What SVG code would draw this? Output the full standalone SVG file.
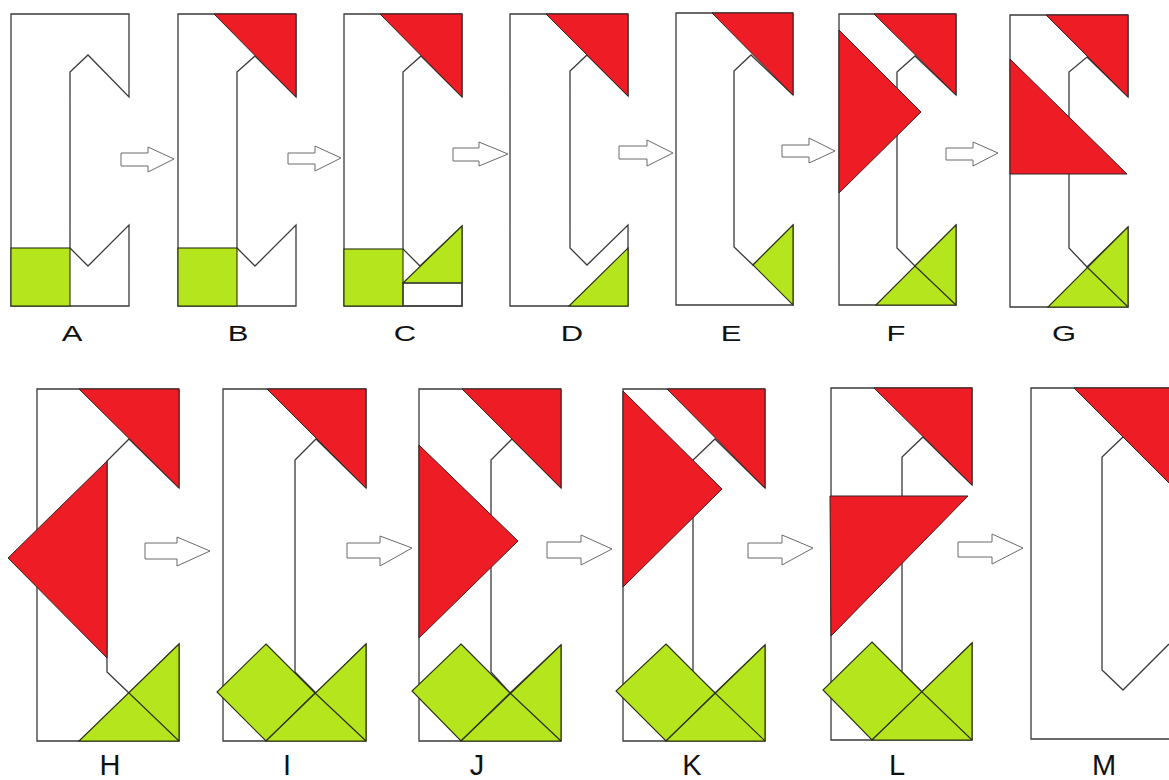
<svg xmlns="http://www.w3.org/2000/svg" width="1169" height="780" viewBox="0 0 1169 780">
<style>
.o{fill:none;stroke:#3a3a3a;stroke-width:1.3;stroke-linejoin:miter}
.r{fill:#ee1c24;stroke:#3a2020;stroke-width:1}
.g{fill:#b5e61d;stroke:#2a3010;stroke-width:1.1}
.l{fill:none;stroke:#2a3010;stroke-width:1.1}
.ar{fill:#ffffff;stroke:#6a6a6a;stroke-width:1}
.t1{font-family:"Liberation Sans",Arial,sans-serif;font-size:31px;fill:#111;text-anchor:middle}
.t2{font-family:"Liberation Sans",Arial,sans-serif;font-size:29px;fill:#111;text-anchor:middle}
</style>
<rect width="1169" height="780" fill="#ffffff"/>

<g id="A">
<path class="o" d="M11,14 H129 V97 L88,55 L70,72 V248 L88,266 L129,225 V306 H11 Z"/>
<rect class="g" x="11" y="248" width="59" height="58"/>
<text class="t1" transform="translate(72,341) scale(1,0.71)">A</text>
</g>

<g id="B">
<path class="o" d="M178,14 H296 V97 L255,56 L237,72 V248 L255,266 L296,225 V306 H178 Z"/>
<polygon class="r" points="214,14 296,14 296,97"/>
<rect class="g" x="178" y="248" width="59" height="58"/>
<text class="t1" transform="translate(238,341) scale(1,0.71)">B</text>
</g>

<g id="C">
<path class="o" d="M344,14 H462 V97 L421,56 L403,72 V249 L420,266 L462,226 V306 H344 Z"/>
<polygon class="r" points="380,14 462,14 462,97"/>
<rect class="g" x="344" y="249" width="59" height="57"/>
<polygon class="g" points="403,283 462,226 462,283"/>
<rect class="o" x="403" y="283" width="59" height="23"/>
<text class="t1" transform="translate(405,341) scale(1,0.71)">C</text>
</g>

<g id="D">
<path class="o" d="M510,14 H628 V96 L587,55 L570,71 V248 L587,265 L628,225 V306 H510 Z"/>
<polygon class="r" points="546,14 628,14 628,96"/>
<polygon class="g" points="569,306 628,248 628,306"/>
<text class="t1" transform="translate(572,341) scale(1,0.71)">D</text>
</g>

<g id="E">
<path class="o" d="M676,13 H793 V95 L751,55 L734,71 V247 L753,265 L793,225 V305 H676 Z"/>
<polygon class="r" points="712,13 793,13 793,95"/>
<polygon class="g" points="753,265 793,225 793,305"/>
<text class="t1" transform="translate(731,341) scale(1,0.71)">E</text>
</g>

<g id="F">
<path class="o" d="M839,14 H956 V95 L915,56 L897,72 V248 L915,266 L956,225 V305 H839 Z"/>
<polygon class="r" points="874,14 956,14 956,95"/>
<polygon class="r" points="839,30 921,112 839,193"/>
<polygon class="g" points="876,305 956,225 956,305"/>
<line class="l" x1="915" y1="266" x2="956" y2="305"/>
<text class="t1" transform="translate(896,341) scale(1,0.71)">F</text>
</g>

<g id="G">
<path class="o" d="M1010,15 H1128 V97 L1087,57 L1069,72 V248 L1087,267 L1128,227 V307 H1010 Z"/>
<polygon class="r" points="1046,15 1128,15 1128,97"/>
<polygon class="r" points="1010,59 1127,174 1010,174"/>
<polygon class="g" points="1048,307 1128,227 1128,307"/>
<line class="l" x1="1087" y1="267" x2="1128" y2="307"/>
<text class="t1" transform="translate(1064,341) scale(1,0.71)">G</text>
</g>

<g id="H">
<path class="o" d="M37,389 H179 V488 L129,439 L107,461 V672 L129,693 L179,644 V741 H37 Z"/>
<polygon class="r" points="79,389 179,389 179,488"/>
<polygon class="r" points="107,461 8,558 107,658"/>
<polygon class="g" points="79,741 179,644 179,741"/>
<line class="l" x1="129" y1="693" x2="179" y2="741"/>
<text class="t2" x="110" y="775">H</text>
</g>

<g id="I">
<path class="o" d="M223,389 H366 V488 L316,439 L295,460 V672 L316,693 L366,644 V741 H223 Z"/>
<polygon class="r" points="267,389 366,389 366,488"/>
<polygon class="g" points="266,644 315,693 266,741 217,692"/>
<polygon class="g" points="266,741 366,644 366,741"/>
<line class="l" x1="315" y1="693" x2="366" y2="741"/>
<text class="t2" x="287" y="775">I</text>
</g>

<g id="J">
<path class="o" d="M419,389 H561 V488 L512,439 L491,460 V672 L510,693 L561,645 V741 H419 Z"/>
<polygon class="r" points="462,389 561,389 561,488"/>
<polygon class="r" points="419,445 518,541 419,638"/>
<polygon class="g" points="461,644 510,693 461,741 412,691"/>
<polygon class="g" points="461,741 561,645 561,741"/>
<line class="l" x1="510" y1="693" x2="561" y2="741"/>
<text class="t2" x="477" y="775">J</text>
</g>

<g id="K">
<path class="o" d="M623,389 H765 V488 L715,439 L693,460 V672 L715,693 L765,645 V741 H623 Z"/>
<polygon class="r" points="667,389 765,389 765,488"/>
<polygon class="r" points="623,391 722,489 623,587"/>
<polygon class="g" points="666,644 715,693 666,741 616,691"/>
<polygon class="g" points="666,741 765,645 765,741"/>
<line class="l" x1="715" y1="693" x2="765" y2="741"/>
<text class="t2" x="692" y="775">K</text>
</g>

<g id="L">
<path class="o" d="M831,388 H972 V485 L923,437 L902,457 V672 L922,692 L972,643 V740 H831 Z"/>
<polygon class="r" points="874,388 972,388 972,485"/>
<polygon class="r" points="830,496 968,496 831,636"/>
<polygon class="g" points="872,642 922,692 872,740 823,690"/>
<polygon class="g" points="872,740 972,643 972,740"/>
<line class="l" x1="922" y1="692" x2="972" y2="740"/>
<text class="t2" x="897" y="775">L</text>
</g>

<g id="M">
<path class="o" d="M1169,388 H1031 V739 H1169"/>
<path class="o" d="M1123,437 L1102,457 V670 L1123,690 L1169,644"/>
<polygon class="r" points="1074,388 1200,388 1200,514"/>
<text class="t2" x="1104" y="775">M</text>
</g>

<g id="connectors">
<polygon class="ar" points="121,153 148,153 148,147 174,159 148,172 148,166 121,166"/>
<polygon class="ar" points="288,153 315,153 315,146 341,158 315,171 315,164 288,164"/>
<polygon class="ar" points="453,148 479,148 479,142 508,154 479,166 479,161 453,161"/>
<polygon class="ar" points="619,146 647,146 647,140 673,153 647,166 647,159 619,159"/>
<polygon class="ar" points="782,145 809,145 809,138 835,151 809,163 809,157 782,157"/>
<polygon class="ar" points="946,148 973,148 973,142 998,153 973,166 973,160 946,160"/>
<polygon class="ar" points="145,543 177,543 177,537 210,551 177,566 177,559 145,559"/>
<polygon class="ar" points="347,543 380,543 380,536 412,548 380,566 380,558 347,558"/>
<polygon class="ar" points="547,542 581,542 581,535 612,549 581,565 581,558 547,558"/>
<polygon class="ar" points="748,543 782,543 782,535 813,548 782,565 782,558 748,558"/>
<polygon class="ar" points="958,542 992,542 992,534 1023,548 992,564 992,557 958,557"/>
</g>
</svg>
